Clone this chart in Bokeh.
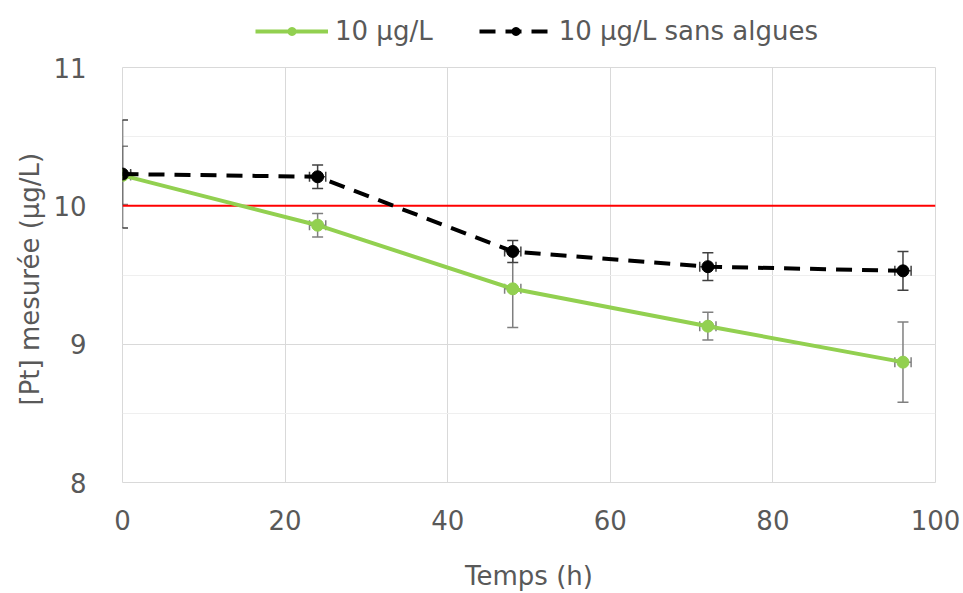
from bokeh.plotting import figure
from bokeh.layouts import column
from bokeh.models import (ColumnDataSource, Whisker, TeeHead, Range1d, SingleIntervalTicker,
                          Legend, LegendItem)
from bokeh.embed import file_html
from bokeh.resources import INLINE

# ---- data ----
time = [0, 24, 48, 72, 96]
time_err = [1, 1, 1, 1, 1]
pt_algues = [10.22, 9.86, 9.40, 9.13, 8.87]
pt_algues_err = [0.21, 0.085, 0.28, 0.10, 0.29]
pt_sans = [10.23, 10.21, 9.67, 9.56, 9.53]
pt_sans_err = [0.39, 0.085, 0.08, 0.10, 0.14]
ref_x = [0, 100]
ref_y = [10, 10]
label_algues = "10 µg/L"
label_sans = "10 µg/L sans algues"

GREEN = "#92d050"
GRAY_TXT = "#595959"
FONT = "DejaVu Sans"

def src(y, yerr):
    return ColumnDataSource(dict(
        x=time, y=y,
        ylo=[a - e for a, e in zip(y, yerr)], yhi=[a + e for a, e in zip(y, yerr)],
        xlo=[a - e for a, e in zip(time, time_err)], xhi=[a + e for a, e in zip(time, time_err)],
    ))

s_alg = src(pt_algues, pt_algues_err)
s_sans = src(pt_sans, pt_sans_err)

W = 963
LEG_H = 46
MAIN_H = 593 - LEG_H

p = figure(width=W, height=MAIN_H, output_backend="svg", toolbar_location=None,
           x_range=Range1d(0, 100), y_range=Range1d(8, 11),
           min_border_left=122, min_border_top=21, min_border_right=28, min_border_bottom=111)
p.outline_line_color = "#d9d9d9"
p.background_fill_color = "white"

# grids
p.xaxis.ticker = SingleIntervalTicker(interval=20, num_minor_ticks=0)
p.yaxis.ticker = SingleIntervalTicker(interval=1, num_minor_ticks=2)
p.xgrid.grid_line_color = "#d9d9d9"
p.ygrid.grid_line_color = "#d9d9d9"
p.ygrid.minor_grid_line_color = "#efefef"

for ax in (p.xaxis[0], p.yaxis[0]):
    ax.axis_line_color = None
    ax.major_tick_line_color = None
    ax.minor_tick_line_color = None
    ax.major_label_text_color = GRAY_TXT
    ax.axis_label_text_color = GRAY_TXT
    ax.axis_label_text_font_style = "normal"
    ax.major_label_text_font = FONT
    ax.axis_label_text_font = FONT
    ax.major_label_text_font_size = "26px"
    ax.axis_label_text_font_size = "26px"

p.yaxis.major_label_standoff = 30
p.yaxis.axis_label = "[Pt] mesurée  (µg/L)"
p.yaxis.axis_label_standoff = 5

p.xaxis.major_label_standoff = 21
p.xaxis.axis_label = "Temps (h)"
p.xaxis.axis_label_standoff = 28

# reference line
p.line(ref_x, ref_y, line_color="#ff0000", line_width=2)

# error bars
def errs(s, color):
    p.add_layout(Whisker(source=s, base="x", lower="ylo", upper="yhi", dimension="height",
                         line_color=color, line_width=1.5,
                         upper_head=TeeHead(size=11, line_color=color, line_width=1.5),
                         lower_head=TeeHead(size=11, line_color=color, line_width=1.5)))
    p.add_layout(Whisker(source=s, base="y", lower="xlo", upper="xhi", dimension="width",
                         line_color=color, line_width=1.5,
                         upper_head=TeeHead(size=10, line_color=color, line_width=1.5),
                         lower_head=TeeHead(size=10, line_color=color, line_width=1.5)))

errs(s_alg, "#7f7f7f")
p.line("x", "y", source=s_alg, line_color=GREEN, line_width=4)
p.scatter("x", "y", source=s_alg, size=12, color=GREEN)

errs(s_sans, "#404040")
p.line("x", "y", source=s_sans, line_color="black", line_width=4, line_dash="16 10")
p.scatter("x", "y", source=s_sans, size=12, color="black")

# ---- legend strip (separate figure above the plot) ----
lg = figure(width=W, height=LEG_H, output_backend="svg", toolbar_location=None,
            x_range=Range1d(1000, 1001), y_range=Range1d(1000, 1001),
            x_axis_type=None, y_axis_type=None,
            min_border_left=0, min_border_right=0, min_border_top=0, min_border_bottom=0)
lg.outline_line_color = None
lg.grid.visible = False
g1 = lg.line("x", "y", source=s_alg, line_color=GREEN, line_width=4)
g1m = lg.scatter("x", "y", source=s_alg, size=9, color=GREEN)
g2 = lg.line("x", "y", source=s_sans, line_color="black", line_width=4, line_dash="16 10")
g2m = lg.scatter("x", "y", source=s_sans, size=12, color="black")

legend = Legend(items=[LegendItem(label=label_algues, renderers=[g1, g1m]),
                       LegendItem(label=label_sans, renderers=[g2, g2m])],
                orientation="horizontal", location=(133, 0),
                glyph_width=73, glyph_height=20, label_standoff=7, spacing=46,
                padding=0, margin=0, border_line_color=None, background_fill_alpha=0,
                label_text_font=FONT, label_text_font_size="26px", label_text_color=GRAY_TXT)
lg.add_layout(legend, "center")

layout = column(lg, p, spacing=0)
open("out.html", "w").write(file_html(layout, INLINE))
